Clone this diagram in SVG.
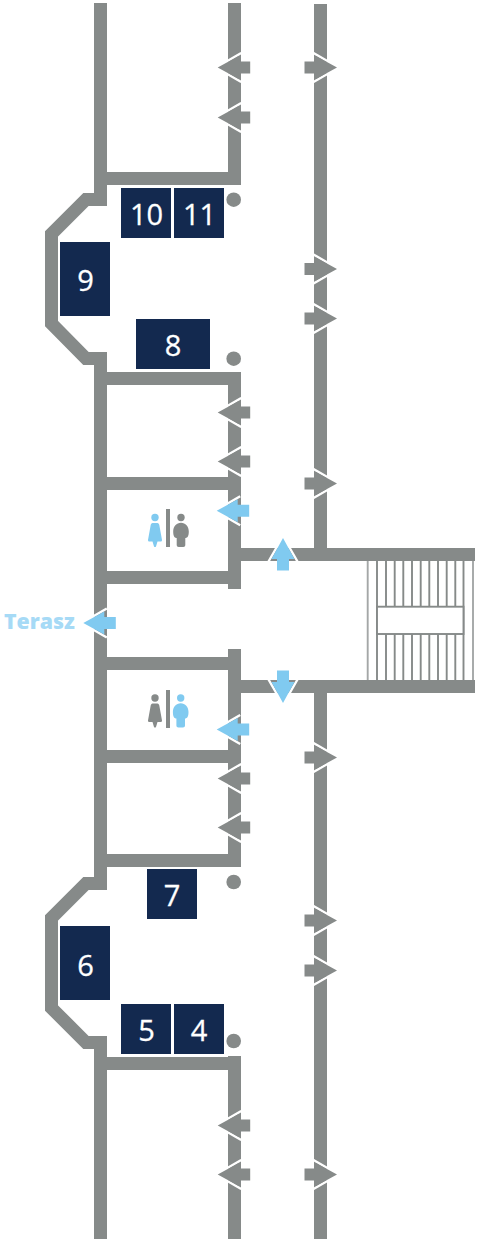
<svg xmlns="http://www.w3.org/2000/svg" xmlns:xlink="http://www.w3.org/1999/xlink" width="478" height="1240" viewBox="0 0 478 1240">
<style>
.w{fill:none;stroke:#868a89;stroke-width:13;stroke-linejoin:miter}
.s{fill:none;stroke:#868a89;stroke-width:1.9}
.box{fill:#13294f}
.num{font-family:"Open Sans","Liberation Sans",sans-serif;font-size:29px;font-weight:500;fill:#fff;stroke:#fff;stroke-width:.3;text-anchor:middle}
.g{fill:#868a89}
.b{fill:#80caf0}
.e{fill:none;stroke:#fff;stroke-width:2.4}
.dot{fill:#868a89}
</style>
<defs>
<g id="al"><path class="e" d="M23.5-14.5L-1.5 0L23.5 14.5"/><path d="M0 0L21-11.500V-6H32.500V6H21V11.500Z"/></g>
<g id="ar"><path class="e" d="M-23.500-14.500L1.500 0L-23.500 14.500"/><path d="M0 0L-21-11.500V-6H-32.500V6H-21V11.500Z"/></g>
<g id="woman"><circle cx="0" cy="0" r="3.700"/><path d="M-2.500 5.500H2.500C3.500 5.500 4 6.500 4.300 7.500L7 22.500C7.100 23.300 6.600 24 5.700 24H2.500L1 29C.6 29.800-.6 29.800-1 29L-2.500 24H-5.700C-6.600 24-7.100 23.300-7 22.500L-4.300 7.500C-4 6.500-3.500 5.500-2.500 5.500Z"/></g>
<g id="man"><circle cx="0" cy="0" r="3.700"/><path d="M0 5.200C4.500 5.200 7.800 9 7.800 14C7.800 18.500 6.500 20.500 4.300 20.500V27.500C4.300 28.800 3.500 29.500 2.300 29.500H-2.300C-3.500 29.500-4.300 28.800-4.300 27.500V20.500C-6.500 20.500-7.800 18.500-7.800 14C-7.800 9-4.500 5.200 0 5.200Z"/></g>
</defs>
<g id="walls">
<path class="w" d="M100.500 3V199.500H86L51.500 234V323.500L86 358.500H100.500V883.500H86L51.500 918V1008L86 1042.500H100.500V1239"/>
<path class="w" d="M234.500 3V178.500H107"/>
<path class="w" d="M107 378.500H234.500V589"/>
<path class="w" d="M107 483.500H234"/>
<path class="w" d="M107 577.500H234"/>
<path class="w" d="M234.500 649V860.500H107"/>
<path class="w" d="M107 663.500H234"/>
<path class="w" d="M107 756.500H234"/>
<path class="w" d="M107 1063.500H234"/>
<path class="w" d="M234.500 1056V1239"/>
<path class="w" d="M320.500 4V548"/>
<path class="w" d="M241 554.500H475"/>
<path class="w" d="M241 686.500H475"/>
<path class="w" d="M320.500 693V1239"/>
</g>
<g id="stairs">
<path class="s" stroke-opacity=".75" d="M367.700 561V680M473 561V680"/>
<path class="s" d="M377 561V680M463.500 561V680"/>
<path class="s" d="M386 561V606.700M394.700 561V606.700M403.300 561V606.700M412 561V606.700M420.700 561V606.700M429.300 561V606.700M438 561V606.700M446.700 561V606.700M455.300 561V606.700"/>
<path class="s" d="M386 634V680M394.700 634V680M403.300 634V680M412 634V680M420.700 634V680M429.300 634V680M438 634V680M446.700 634V680M455.300 634V680"/>
<rect class="s" x="377" y="606.700" width="86.500" height="27.300" style="fill:#fff"/>
</g>
<g id="arrows-gray" class="g">
<use xlink:href="#al" href="#al" x="217.700" y="67.500"/>
<use xlink:href="#al" href="#al" x="217.700" y="117.500"/>
<use xlink:href="#al" href="#al" x="217.700" y="412.500"/>
<use xlink:href="#al" href="#al" x="217.700" y="461.500"/>
<use xlink:href="#al" href="#al" x="217.700" y="778.500"/>
<use xlink:href="#al" href="#al" x="217.700" y="827.500"/>
<use xlink:href="#al" href="#al" x="217.700" y="1125.500"/>
<use xlink:href="#al" href="#al" x="217.700" y="1174.500"/>
<use xlink:href="#ar" href="#ar" x="337" y="67.500"/>
<use xlink:href="#ar" href="#ar" x="337" y="269"/>
<use xlink:href="#ar" href="#ar" x="337" y="318.500"/>
<use xlink:href="#ar" href="#ar" x="337" y="483.500"/>
<use xlink:href="#ar" href="#ar" x="337" y="757.500"/>
<use xlink:href="#ar" href="#ar" x="337" y="920.500"/>
<use xlink:href="#ar" href="#ar" x="337" y="970.500"/>
<use xlink:href="#ar" href="#ar" x="337" y="1174.500"/>
</g>
<g id="arrows-blue" class="b">
<use xlink:href="#al" href="#al" x="216.700" y="510.800"/>
<use xlink:href="#al" href="#al" x="216.700" y="729.500"/>
<use xlink:href="#al" href="#al" x="83.300" y="623"/>
<use xlink:href="#al" href="#al" transform="translate(283 538) rotate(90)"/>
<use xlink:href="#al" href="#al" transform="translate(283 703) rotate(-90)"/>
</g>
<text id="terasz" x="4" y="629" font-family="'Open Sans','Liberation Sans',sans-serif" font-size="21.300" font-weight="800" fill="#a6daf6">Terasz</text>
<g id="wc-top">
<use xlink:href="#woman" href="#woman" x="155" y="517.500" class="b"/>
<rect x="166" y="509" width="4" height="38" class="g"/>
<use xlink:href="#man" href="#man" x="181" y="517.500" class="g"/>
</g>
<g id="wc-bottom">
<use xlink:href="#woman" href="#woman" x="155" y="698" class="g"/>
<rect x="166" y="690" width="4" height="38" class="g"/>
<use xlink:href="#man" href="#man" x="180.700" y="698" class="b"/>
</g>
<g id="dots">
<circle class="dot" cx="233.700" cy="199.700" r="7.300"/>
<circle class="dot" cx="233.700" cy="358.700" r="7.300"/>
<circle class="dot" cx="233.700" cy="882" r="7.300"/>
<circle class="dot" cx="233.700" cy="1041" r="7.300"/>
</g>
<g id="n10"><rect class="box" x="121" y="188" width="50" height="50"/><text class="num" x="146.500" y="224.500">10</text></g>
<g id="n11"><rect class="box" x="174" y="188" width="50" height="50"/><text class="num" x="199.500" y="224.500">11</text></g>
<g id="n9"><rect class="box" x="60" y="242" width="50" height="74"/><text class="num" x="85.500" y="291">9</text></g>
<g id="n8"><rect class="box" x="136" y="319" width="74" height="50"/><text class="num" x="173" y="355.500">8</text></g>
<g id="n7"><rect class="box" x="147" y="869" width="50" height="50"/><text class="num" x="172" y="906">7</text></g>
<g id="n6"><rect class="box" x="60" y="926" width="50" height="74"/><text class="num" x="85.500" y="975.500">6</text></g>
<g id="n5"><rect class="box" x="121" y="1004" width="50" height="50"/><text class="num" x="146.500" y="1041">5</text></g>
<g id="n4"><rect class="box" x="174" y="1004" width="50" height="50"/><text class="num" x="199" y="1041">4</text></g>
</svg>
